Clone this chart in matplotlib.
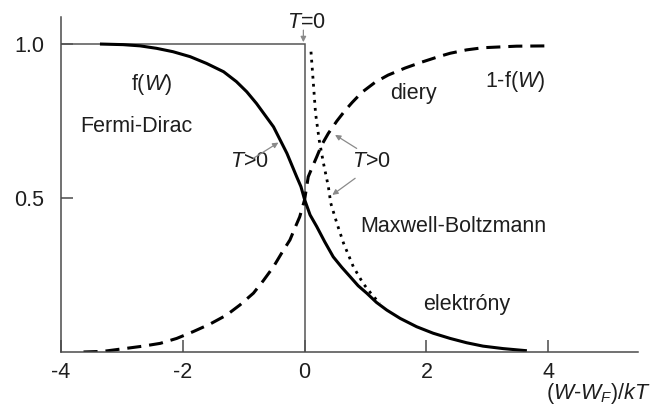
import matplotlib
matplotlib.use("Agg")
import matplotlib.pyplot as plt

plt.rcParams['font.family'] = ['Liberation Sans', 'DejaVu Sans']
plt.rcParams['mathtext.fontset'] = 'custom'
plt.rcParams['mathtext.rm'] = 'Liberation Sans'
plt.rcParams['mathtext.it'] = 'Liberation Sans:italic'

# ---- data ----
# Fermi-Dirac f(W), T>0 (solid)
fd_x = [-3.36, -2.98, -2.70, -2.43, -2.16, -1.88, -1.61, -1.33, -1.12, -0.95, -0.79,
        -0.65, -0.51, -0.40, -0.29, -0.21, -0.13, -0.06, 0.0,
        0.09, 0.20, 0.33, 0.47, 0.61, 0.75, 0.88, 1.02, 1.18, 1.35, 1.57, 1.84,
        2.11, 2.39, 2.66, 2.93, 3.26, 3.65]
fd_y = [1.0, 0.998, 0.994, 0.986, 0.975, 0.959, 0.937, 0.910, 0.878, 0.845, 0.807,
        0.769, 0.731, 0.688, 0.645, 0.607, 0.569, 0.537, 0.495,
        0.445, 0.407, 0.358, 0.309, 0.275, 0.244, 0.215, 0.191, 0.161, 0.136, 0.109, 0.082,
        0.061, 0.044, 0.030, 0.019, 0.011, 0.004]

# holes 1-f(W) (dashed)
h_x = [-3.63, -3.31, -2.92, -2.65, -2.37, -2.10, -1.83, -1.55, -1.28, -1.06, -0.84,
       -0.68, -0.51, -0.38, -0.24, -0.16, -0.08, 0.0,
       0.06, 0.13, 0.20, 0.28, 0.39, 0.53, 0.66, 0.78, 0.94, 1.16, 1.37, 1.65, 1.92,
       2.20, 2.39, 2.66, 2.93, 3.48, 4.03]
h_y = [0.0, 0.002, 0.012, 0.019, 0.028, 0.044, 0.066, 0.091, 0.120, 0.153, 0.191,
       0.231, 0.277, 0.320, 0.364, 0.402, 0.439, 0.494,
       0.569, 0.602, 0.634, 0.672, 0.710, 0.750, 0.783, 0.810, 0.843, 0.876, 0.899, 0.922, 0.941,
       0.959, 0.970, 0.981, 0.988, 0.993, 0.994]

# Maxwell-Boltzmann (dotted)
mb_x = [0.105, 0.14, 0.18, 0.24, 0.31, 0.39, 0.43, 0.53, 0.64, 0.80, 0.96, 1.13, 1.24]
mb_y = [0.975, 0.883, 0.775, 0.688, 0.613, 0.537, 0.483, 0.418, 0.353, 0.277, 0.223, 0.180, 0.158]

# T = 0 step
t0_x = [-4.0, 0.0, 0.0]
t0_y = [1.0, 1.0, 0.0]

x_ticks = [-4, -2, 0, 2, 4]
x_tick_labels = ['-4', '-2', '0', '2', '4']
y_ticks = [0.5, 1.0]
y_tick_labels = ['0.5', '1.0']

# ---- figure ----
fig = plt.figure(figsize=(6.55, 4.08), dpi=100)
ax = fig.add_axes([0.0931, 0.1373, 0.881, 0.821])

axc = '#4a4a4a'
txt = '#1e1e1e'
fs = 15.5

ax.plot(t0_x, t0_y, color='#555555', lw=1.1, solid_joinstyle='miter')
ax.plot(fd_x, fd_y, color='black', lw=2.2, solid_capstyle='butt', solid_joinstyle='round')
ax.plot(h_x, h_y, color='black', lw=2.2, dashes=(4.6, 2.6))
ax.plot(mb_x, mb_y, color='black', lw=2.0, dashes=(1.0, 1.9))

ax.set_xlim(-4, 5.475)
ax.set_ylim(0, 1.0877)
for s in ['top', 'right']:
    ax.spines[s].set_visible(False)
for s in ['left', 'bottom']:
    ax.spines[s].set_color(axc)
    ax.spines[s].set_linewidth(1.1)

ax.set_xticks(x_ticks)
ax.set_xticklabels(x_tick_labels)
ax.set_yticks(y_ticks)
ax.set_yticklabels(y_tick_labels)
ax.tick_params(axis='x', direction='in', length=8.6, width=1.1, color=axc,
               labelsize=fs, labelcolor=txt, pad=7)
ax.tick_params(axis='y', direction='in', length=8.6, width=1.1, color=axc,
               labelsize=fs, labelcolor=txt, pad=12)

# labels
ax.text(0.03, 1.071, '$T$=0', ha='center', va='center', fontsize=fs, color=txt)
ax.text(-2.51, 0.867, 'f($W$)', ha='center', va='center', fontsize=fs, color=txt)
ax.text(-2.76, 0.731, 'Fermi-Dirac', ha='center', va='center', fontsize=fs, color=txt)
ax.text(1.79, 0.840, 'diery', ha='center', va='center', fontsize=fs, color=txt)
ax.text(3.45, 0.878, '1-f($W$)', ha='center', va='center', fontsize=fs, color=txt)
ax.text(2.45, 0.407, 'Maxwell-Boltzmann', ha='center', va='center', fontsize=fs, color=txt)
ax.text(2.66, 0.153, 'elektróny', ha='center', va='center', fontsize=fs, color=txt)
ax.text(-0.91, 0.618, '$T$>0', ha='center', va='center', fontsize=fs, color=txt)
ax.text(1.09, 0.618, '$T$>0', ha='center', va='center', fontsize=fs, color=txt)
ax.text(4.82, -0.136, '($W$-$W_F$)/$kT$', ha='center', va='center', fontsize=fs,
        color=txt, clip_on=False)

ap = dict(arrowstyle='-|>', color='#8a8a8a', lw=0.9, mutation_scale=8,
          shrinkA=0, shrinkB=0)
ax.annotate('', xy=(-0.02, 1.006), xytext=(-0.02, 1.045), arrowprops=ap)
ax.annotate('', xy=(-0.43, 0.680), xytext=(-0.84, 0.629), arrowprops=ap)
ax.annotate('', xy=(0.50, 0.705), xytext=(0.855, 0.661), arrowprops=ap)
ax.annotate('', xy=(0.455, 0.510), xytext=(0.83, 0.564), arrowprops=ap)

fig.savefig('out.png', dpi=100)
